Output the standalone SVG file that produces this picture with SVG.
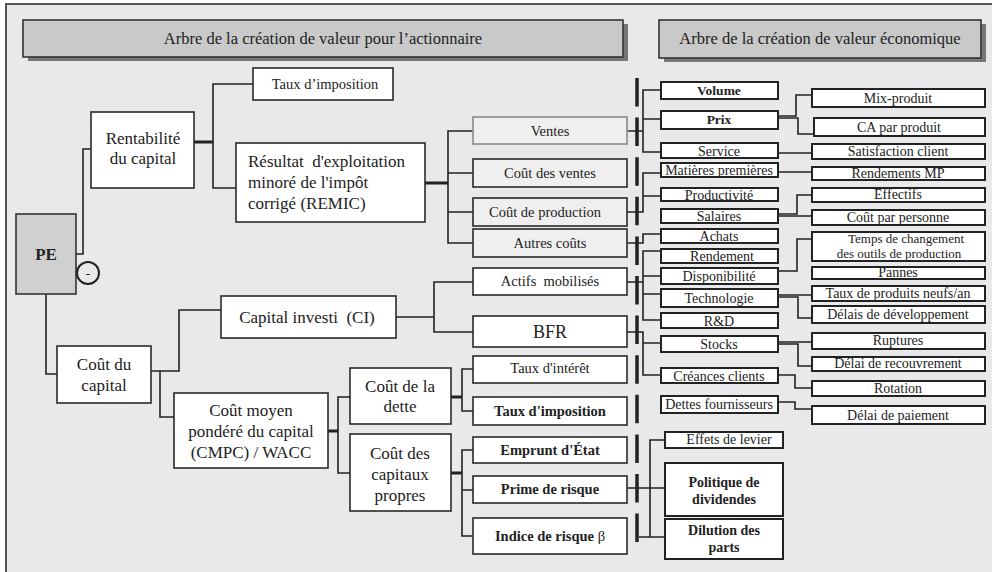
<svg xmlns="http://www.w3.org/2000/svg" width="992" height="572" viewBox="0 0 992 572">
<style>
text{font-family:"Liberation Serif","Times New Roman",serif;fill:#222;text-anchor:middle}
.b{fill:#fff;stroke:#2a2a2a;stroke-width:1.6}
.g{fill:#efefef;stroke:#2a2a2a;stroke-width:1.6}
.s{fill:#fff;stroke:#222;stroke-width:2}
.c{fill:none;stroke:#222;stroke-width:1.6}
.t{fill:none;stroke:#222;stroke-width:3}
.f16{font-size:17px}
.m{font-size:14.5px}
.f14{font-size:14px}
.f13{font-size:13.5px}
.bd{font-weight:bold}
</style>
<rect x="0" y="0" width="992" height="572" fill="#fff"/>
<rect x="6" y="4" width="990" height="572" fill="#e9e9eb"/>
<path d="M6,572 V4 H992" fill="none" stroke="#555" stroke-width="2"/>

<g id="header-left">
<rect x="28" y="24" width="600" height="37" fill="#777"/>
<rect x="23" y="20" width="600" height="37" fill="#c9c9c9" stroke="#333" stroke-width="1.6"/>
<text x="323" y="44" style="font-size:16.5px">Arbre de la création de valeur pour l’actionnaire</text>
</g>
<g id="header-right">
<rect x="664" y="24" width="322" height="38" fill="#777"/>
<rect x="659" y="20" width="322" height="38" fill="#c9c9c9" stroke="#333" stroke-width="1.6"/>
<text x="820" y="44" style="font-size:16.5px">Arbre de la création de valeur économique</text>
</g>

<g id="connectors">
<path class="c" d="M76,254 H83 V149 H91"/>
<path class="c" d="M46,294 V374 H57"/>
<path class="t" d="M194,142 H213"/>
<path class="c" d="M253,84 H213 V188 H236"/>
<path class="t" d="M425,183 H448"/>
<path class="c" d="M473,131 H448 V243 H473 M448,173 H473 M448,212 H473"/>
<path class="c" d="M151,371 H179 V310 H221"/>
<path class="c" d="M160,371 V417 H174"/>
<path class="c" d="M396,317 H434"/>
<path class="c" d="M473,282 H434 V332 H473"/>
<path class="t" d="M328,431 H338"/>
<path class="c" d="M350,397 H338 V473 H350"/>
<path class="t" d="M451,397 H462"/>
<path class="c" d="M473,369 H462 V411 H473"/>
<path class="t" d="M451,473 H462"/>
<path class="c" d="M473,450 H462 V536 H473 M462,490 H473"/>
<line x1="637" y1="78" x2="637" y2="542" stroke="#222" stroke-width="3.5" stroke-dasharray="28.5 11.1"/>
<path class="c" d="M627,131 H643 M661,90 H643 V152 H661 M643,119 H661"/>
<path class="c" d="M627,212 H643 V173 H661 M643,196 H661"/>
<path class="c" d="M627,243 H643 V234 H661"/>
<path class="c" d="M627,282 H643 M661,251 H643 V320 H661 M643,276 H661 M643,294 H661"/>
<path class="c" d="M627,332 H643 V375 H661 M643,343 H661"/>
<path class="c" d="M625,488 H665 M665,440 H650 V537 H665 M639,537 H650"/>
<path class="c" d="M778,116 H796 V95 H812 M778,118 H798 V134 H814"/>
<path class="c" d="M778,153 H812"/>
<path class="c" d="M778,172 H812"/>
<path class="c" d="M778,214 H797 V195 H812 M778,216 H812"/>
<path class="c" d="M778,271 H797 V239 H812"/>
<path class="c" d="M778,295 H812 M778,297 H798 V318 H812"/>
<path class="c" d="M778,342 H812 M778,344 H798 V366 H812"/>
<path class="c" d="M778,375 H795 V388 H812"/>
<path class="c" d="M778,402 H795 V409 H812"/>
</g>

<g id="pe">
<rect x="16" y="214" width="60" height="80" fill="#d0d0d0" stroke="#333" stroke-width="1.6"/>
<text x="46" y="260" class="bd" style="font-size:17px">PE</text>
</g>
<g id="minus">
<circle cx="88" cy="273" r="11" fill="none" stroke="#222" stroke-width="2"/>
<text x="88" y="278" class="f13">-</text>
</g>
<g id="rentabilite">
<rect class="b" x="91" y="112" width="103" height="76"/>
<text x="143" y="144" class="f16">Rentabilité</text>
<text x="143" y="164" class="f16">du capital</text>
</g>
<g id="taux-imposition-top">
<rect class="b" x="253" y="68" width="140" height="32"/>
<text x="325" y="89" class="m">Taux d’imposition</text>
</g>
<g id="remic">
<rect class="b" x="236" y="143" width="189" height="79"/>
<text x="248" y="167" class="f16" style="text-anchor:start" xml:space="preserve">Résultat  d'exploitation</text>
<text x="248" y="188" class="f16" style="text-anchor:start">minoré de l'impôt</text>
<text x="248" y="209" class="f16" style="text-anchor:start">corrigé (REMIC)</text>
</g>
<g id="capital-investi">
<rect class="b" x="221" y="296" width="175" height="42"/>
<text x="307" y="323" class="f16" xml:space="preserve">Capital investi  (CI)</text>
</g>
<g id="cout-capital">
<rect class="b" x="57" y="346" width="94" height="57"/>
<text x="104" y="370" class="f16">Coût du</text>
<text x="104" y="391" class="f16">capital</text>
</g>
<g id="cmpc">
<rect class="b" x="174" y="393" width="154" height="75"/>
<text x="251" y="416" class="f16">Coût moyen</text>
<text x="251" y="437" class="f16">pondéré du capital</text>
<text x="251" y="458" class="f16">(CMPC) / WACC</text>
</g>
<g id="cout-dette">
<rect class="b" x="350" y="368" width="101" height="56"/>
<text x="400" y="392" class="f16">Coût de la</text>
<text x="400" y="412" class="f16">dette</text>
</g>
<g id="cout-capitaux">
<rect class="b" x="350" y="434" width="101" height="77"/>
<text x="400" y="459" class="f16">Coût des</text>
<text x="400" y="480" class="f16">capitaux</text>
<text x="400" y="501" class="f16">propres</text>
</g>

<g id="ventes">
<rect x="473" y="117" width="154" height="27" fill="#efefef" stroke="#8a8a8a" stroke-width="1.6"/>
<text x="550" y="136" class="m">Ventes</text>
</g>
<g id="cout-ventes">
<rect class="g" x="473" y="159" width="154" height="28"/>
<text x="550" y="178" class="m">Coût des ventes</text>
</g>
<g id="cout-production">
<rect class="g" x="473" y="198" width="154" height="28"/>
<text x="545" y="217" class="m">Coût de production</text>
</g>
<g id="autres-couts">
<rect class="g" x="473" y="229" width="154" height="28"/>
<text x="550" y="248" class="m">Autres coûts</text>
</g>
<g id="actifs">
<rect class="b" x="473" y="268" width="154" height="27"/>
<text x="550" y="286" class="m" xml:space="preserve">Actifs  mobilisés</text>
</g>
<g id="bfr">
<rect class="b" x="473" y="316" width="154" height="31"/>
<text x="550" y="338" style="font-size:18px">BFR</text>
</g>
<g id="taux-interet">
<rect class="b" x="473" y="356" width="154" height="27"/>
<text x="550" y="373" class="m">Taux d'intérêt</text>
</g>
<g id="taux-imposition">
<rect class="b" x="473" y="397" width="154" height="28"/>
<text x="550" y="416" class="m bd">Taux d'imposition</text>
</g>
<g id="emprunt">
<rect class="b" x="473" y="437" width="154" height="26"/>
<text x="550" y="455" class="m bd">Emprunt d'État</text>
</g>
<g id="prime">
<rect class="b" x="473" y="476" width="154" height="27"/>
<text x="550" y="494" class="m bd">Prime de risque</text>
</g>
<g id="indice">
<rect class="b" x="473" y="518" width="154" height="36"/>
<text x="550" y="541" class="m bd">Indice de risque <tspan font-weight="normal">β</tspan></text>
</g>

<g id="volume"><rect class="s" x="661" y="82" width="117" height="17"/><text x="719" y="95" class="f13 bd">Volume</text></g>
<g id="prix"><rect class="s" x="661" y="111" width="117" height="18"/><text x="719" y="124" class="f13 bd">Prix</text></g>
<g id="service"><rect class="s" x="661" y="143" width="117" height="15"/><text x="719" y="156" class="f14">Service</text></g>
<g id="matieres"><rect class="s" x="661" y="163" width="117" height="14"/><text x="719" y="175" class="f14">Matières premières</text></g>
<g id="productivite"><rect class="s" x="661" y="188" width="117" height="13"/><text x="719" y="200" class="f14">Productivité</text></g>
<g id="salaires"><rect class="s" x="661" y="209" width="117" height="14"/><text x="719" y="221" class="f14">Salaires</text></g>
<g id="achats"><rect class="s" x="661" y="229" width="117" height="14"/><text x="719" y="241" class="f14">Achats</text></g>
<g id="rendement"><rect class="s" x="661" y="249" width="117" height="14"/><text x="722" y="261" class="f14">Rendement</text></g>
<g id="disponibilite"><rect class="s" x="661" y="268" width="117" height="16"/><text x="719" y="281" class="f14">Disponibilité</text></g>
<g id="technologie"><rect class="s" x="661" y="289" width="117" height="18"/><text x="719" y="303" class="f14">Technologie</text></g>
<g id="rd"><rect class="s" x="661" y="313" width="117" height="15"/><text x="719" y="326" class="f14">R&amp;D</text></g>
<g id="stocks"><rect class="s" x="661" y="336" width="117" height="16"/><text x="719" y="349" class="f14">Stocks</text></g>
<g id="creances"><rect class="s" x="661" y="368" width="117" height="15"/><text x="719" y="381" class="f14">Créances clients</text></g>
<g id="dettes"><rect class="s" x="661" y="396" width="117" height="17"/><text x="719" y="409" class="f14">Dettes fournisseurs</text></g>

<g id="mix"><rect class="s" x="812" y="89" width="173" height="18"/><text x="898" y="103" class="f14">Mix-produit</text></g>
<g id="ca"><rect class="s" x="814" y="118" width="171" height="18"/><text x="899" y="132" class="f14">CA par produit</text></g>
<g id="satisfaction"><rect class="s" x="812" y="144" width="173" height="15"/><text x="898" y="156" class="f14">Satisfaction client</text></g>
<g id="rendements-mp"><rect class="s" x="812" y="167" width="173" height="13"/><text x="898" y="178" class="f14">Rendements MP</text></g>
<g id="effectifs"><rect class="s" x="812" y="188" width="173" height="14"/><text x="898" y="199" class="f14">Effectifs</text></g>
<g id="cout-personne"><rect class="s" x="812" y="210" width="173" height="15"/><text x="898" y="222" class="f14">Coût par personne</text></g>
<g id="temps"><rect class="s" x="812" y="232" width="173" height="29"/><text x="906" y="243" style="font-size:13px">Temps de changement</text><text x="899" y="257.5" style="font-size:13px">des outils de production</text></g>
<g id="pannes"><rect class="s" x="812" y="267" width="173" height="12"/><text x="898" y="277" class="f14">Pannes</text></g>
<g id="taux-produits"><rect class="s" x="812" y="286" width="173" height="15"/><text x="898" y="298" class="f14">Taux de produits neufs/an</text></g>
<g id="delais-dev"><rect class="s" x="812" y="306" width="173" height="17"/><text x="898" y="319" class="f14">Délais de développement</text></g>
<g id="ruptures"><rect class="s" x="812" y="333" width="173" height="16"/><text x="898" y="345" class="f14">Ruptures</text></g>
<g id="delai-recouvrement"><rect class="s" x="812" y="357" width="173" height="14"/><text x="898" y="368" class="f14">Délai de recouvrement</text></g>
<g id="rotation"><rect class="s" x="812" y="381" width="173" height="15"/><text x="898" y="393" class="f14">Rotation</text></g>
<g id="delai-paiement"><rect class="s" x="812" y="406" width="173" height="18"/><text x="898" y="420" class="f14">Délai de paiement</text></g>

<g id="effets"><rect class="s" x="665" y="432" width="118" height="16"/><text x="729" y="444" class="f14">Effets de levier</text></g>
<g id="politique"><rect class="s" x="665" y="463" width="118" height="53"/><text x="724" y="487" class="f14 bd">Politique de</text><text x="724" y="504" class="f14 bd">dividendes</text></g>
<g id="dilution"><rect class="s" x="665" y="519" width="118" height="40"/><text x="724" y="535" class="f14 bd">Dilution des</text><text x="724" y="552" class="f14 bd">parts</text></g>
</svg>
